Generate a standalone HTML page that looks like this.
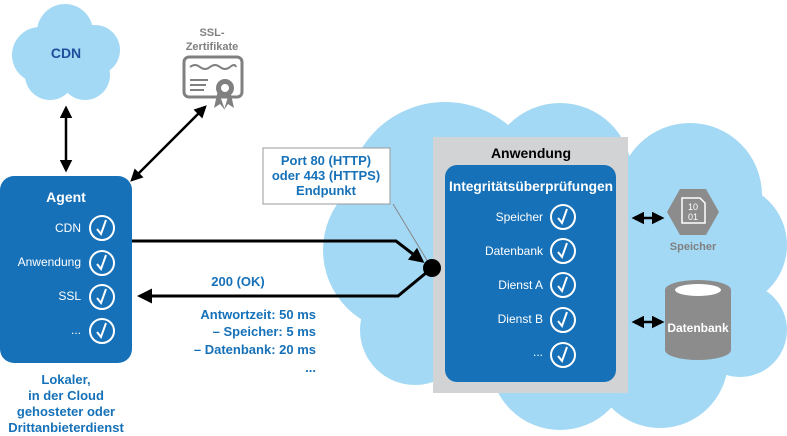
<!DOCTYPE html>
<html><head><meta charset="utf-8"><style>
html,body{margin:0;padding:0;background:#fff;}
svg{display:block;font-family:"Liberation Sans",sans-serif;}
.b{font-weight:bold;}
</style></head><body>
<svg width="787" height="436" viewBox="0 0 787 436" xmlns="http://www.w3.org/2000/svg">
<defs>
<marker id="ah" viewBox="0 0 10 10" refX="8" refY="5" markerWidth="5" markerHeight="5" orient="auto-start-reverse"><path d="M0,0 L10,5 L0,10 z" fill="#000"/></marker>
<g id="chk"><circle r="12" fill="none" stroke="#fff" stroke-width="2"/><path d="M-5,1 L-1,6 L4,-8" fill="none" stroke="#fff" stroke-width="2"/></g>
</defs>
<!-- big cloud -->
<g fill="#a3d9f5">
<circle cx="445" cy="200" r="98"/>
<circle cx="560" cy="175" r="72"/>
<circle cx="690" cy="195" r="72"/>
<circle cx="725" cy="245" r="62"/>
<circle cx="740" cy="330" r="47"/>
<circle cx="660" cy="360" r="68"/>
<circle cx="560" cy="360" r="70"/>
<circle cx="415" cy="330" r="55"/>
<circle cx="405" cy="250" r="82"/>
<rect x="420" y="180" width="300" height="200"/>
</g>
<!-- CDN cloud -->
<g fill="#a3d9f5">
<circle cx="40" cy="55" r="28"/><circle cx="65" cy="32" r="28"/><circle cx="95" cy="50" r="25"/>
<circle cx="85" cy="75" r="25"/><circle cx="50" cy="75" r="25"/><circle cx="65" cy="55" r="30"/>
</g>
<text x="66" y="58" text-anchor="middle" class="b" font-size="14" fill="#1f4e9c">CDN</text>
<line x1="66" y1="108" x2="66" y2="170" stroke="#000" stroke-width="2.5" marker-start="url(#ah)" marker-end="url(#ah)"/>
<!-- cert -->
<text x="212" y="36" text-anchor="middle" class="b" font-size="11" fill="#808080">SSL-</text>
<text x="212" y="50" text-anchor="middle" class="b" font-size="11" fill="#808080">Zertifikate</text>
<rect x="184" y="57" width="58" height="40" rx="5" fill="none" stroke="#808080" stroke-width="3"/>
<path d="M190,67 q5,-4 10,0 t10,0 t10,0 t10,0 t6,0" fill="none" stroke="#808080" stroke-width="2"/>
<path d="M190,80 h18 M190,85 h16 M190,90 h14" stroke="#808080" stroke-width="2"/>
<path d="M218,90 l-4,18 l6,-4 l5,6 z M230,90 l4,18 l-6,-4 l-4,6 z" fill="#808080"/>
<circle cx="225" cy="88" r="9" fill="#808080"/><circle cx="225" cy="88" r="4" fill="#fff"/>
<line x1="132" y1="180" x2="205" y2="107" stroke="#000" stroke-width="2.5" marker-start="url(#ah)" marker-end="url(#ah)"/>
<!-- Agent -->
<rect x="0" y="176" width="132" height="187" rx="14" fill="#1671b8"/>
<text x="66" y="202" text-anchor="middle" class="b" font-size="14" fill="#fff">Agent</text>
<g font-size="12" fill="#fff" text-anchor="end">
<text x="81" y="232">CDN</text><text x="81" y="266">Anwendung</text><text x="81" y="300">SSL</text><text x="81" y="334">...</text>
</g>
<use href="#chk" x="102" y="228"/><use href="#chk" x="102" y="263"/><use href="#chk" x="102" y="297"/><use href="#chk" x="102" y="331"/>
<g class="b" font-size="13" fill="#1671b8" text-anchor="middle">
<text x="66" y="384">Lokaler,</text><text x="66" y="400">in der Cloud</text><text x="66" y="416">gehosteter oder</text><text x="66" y="432">Drittanbieterdienst</text>
</g>
<!-- connectors -->
<polyline points="132,241 396,241 422,261" fill="none" stroke="#000" stroke-width="3" marker-end="url(#ah)"/>
<polyline points="432,268 398,296 140,296" fill="none" stroke="#000" stroke-width="3" marker-end="url(#ah)"/>
<text x="238" y="286" text-anchor="middle" class="b" font-size="13" fill="#1671b8">200 (OK)</text>
<g class="b" font-size="13" fill="#1671b8" text-anchor="end">
<text x="316" y="319">Antwortzeit: 50 ms</text><text x="316" y="336">– Speicher: 5 ms</text><text x="316" y="354">– Datenbank: 20 ms</text><text x="316" y="372">...</text>
</g>
<!-- callout -->
<rect x="263" y="148" width="127" height="56" fill="#fff" stroke="#999" stroke-width="1"/>
<g class="b" font-size="13" fill="#1671b8" text-anchor="middle">
<text x="326" y="165">Port 80 (HTTP)</text><text x="326" y="180">oder 443 (HTTPS)</text><text x="326" y="195">Endpunkt</text>
</g>
<line x1="393" y1="204" x2="428" y2="262" stroke="#888" stroke-width="1"/>
<!-- app -->
<rect x="433" y="137" width="195" height="256" fill="#d1d3d4"/>
<text x="531" y="158" text-anchor="middle" class="b" font-size="14" fill="#000">Anwendung</text>
<rect x="445" y="165" width="171" height="217" rx="12" fill="#1671b8"/>
<text x="531" y="191" text-anchor="middle" class="b" font-size="14" fill="#fff" textLength="164" lengthAdjust="spacingAndGlyphs">Integritätsüberprüfungen</text>
<g font-size="12" fill="#fff" text-anchor="end">
<text x="543" y="221">Speicher</text><text x="543" y="255">Datenbank</text><text x="543" y="289">Dienst A</text><text x="543" y="323">Dienst B</text><text x="543" y="356">...</text>
</g>
<use href="#chk" x="563" y="217"/><use href="#chk" x="563" y="251"/><use href="#chk" x="563" y="285"/><use href="#chk" x="563" y="320"/><use href="#chk" x="563" y="355"/>
<circle cx="432" cy="268" r="9" fill="#000"/>
<!-- right -->
<line x1="634" y1="218" x2="662" y2="218" stroke="#000" stroke-width="2.5" marker-start="url(#ah)" marker-end="url(#ah)"/>
<line x1="634" y1="322" x2="662" y2="322" stroke="#000" stroke-width="2.5" marker-start="url(#ah)" marker-end="url(#ah)"/>
<polygon points="680,189 706,189 719,212 706,235 680,235 667,212" fill="#8c8c8c"/>
<path d="M682,198 h18 l5,5 v20 h-23 z" fill="none" stroke="#fff" stroke-width="1.5"/>
<text x="693" y="210" text-anchor="middle" font-size="9" fill="#fff">10</text>
<text x="693" y="220" text-anchor="middle" font-size="9" fill="#fff">01</text>
<text x="693" y="250" text-anchor="middle" class="b" font-size="11" fill="#808080">Speicher</text>
<path d="M665,290 v60 a33,10 0 0 0 66,0 v-60 z" fill="#8c8c8c"/>
<ellipse cx="698" cy="290" rx="33" ry="10" fill="#8c8c8c"/>
<ellipse cx="698" cy="290" rx="23" ry="6" fill="#fff"/>
<text x="698" y="332" text-anchor="middle" class="b" font-size="12" fill="#fff">Datenbank</text>
</svg>
</body></html>
